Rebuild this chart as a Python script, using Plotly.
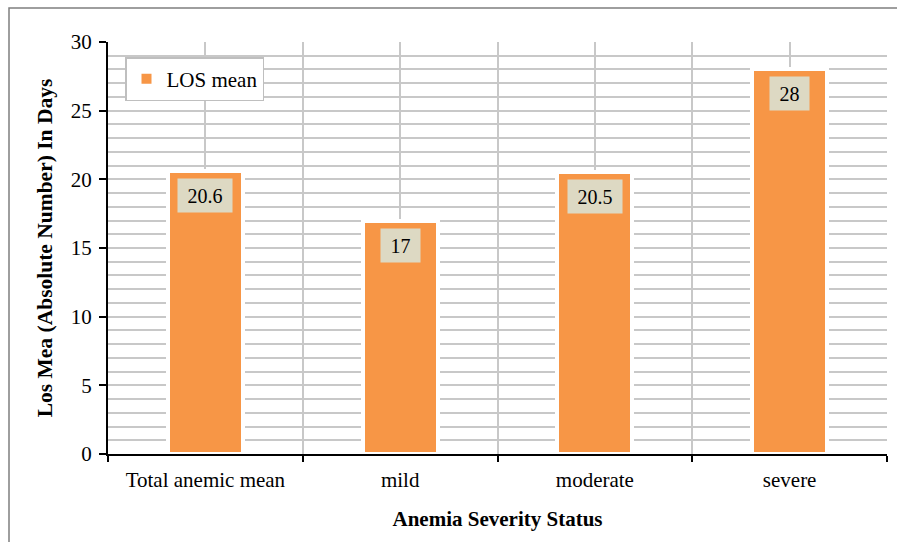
import plotly.graph_objects as go

# Length-of-stay means by anemia severity
categories = ["Total anemic mean", "mild", "moderate", "severe"]
los_mean = [20.6, 17, 20.5, 28]
series_name = "LOS mean"
value_labels = ["20.6", "17", "20.5", "28"]

FONT = "Liberation Serif, Times New Roman, serif"
BAR = "#F79646"
GRID = "#C8C8C8"
FS = 21

x_pos = list(range(len(categories)))

fig = go.Figure()
fig.add_trace(go.Bar(
    x=x_pos,
    y=los_mean,
    name=series_name,
    width=0.385,
    marker=dict(color=BAR, line=dict(color="white", width=4)),
    showlegend=True,
))

# value boxes at the inside end of each bar
for xi, v, txt in zip(x_pos, los_mean, value_labels):
    w = sum(5 if ch == "." else 10 for ch in txt) + 9
    fig.add_annotation(
        x=xi, y=v, xref="x", yref="y",
        text=txt, showarrow=False,
        yanchor="top", yshift=-7,
        font=dict(family=FONT, size=20, color="black"),
        bgcolor="#DDD9C3", borderpad=5,
        width=w, height=23,
    )

# outer chart border
L, R, T, B = 108, 887, 42, 454
pw, ph = R - L, B - T
fig.add_shape(
    type="rect", xref="paper", yref="paper",
    x0=(9 - L) / pw, x1=(930 - L) / pw,
    y0=(B - 580) / ph, y1=(B - 8) / ph,
    line=dict(color="#7F7F7F", width=1.5), fillcolor="rgba(0,0,0,0)",
    layer="below",
)

fig.update_layout(
    width=897, height=542,
    margin=dict(l=L, r=897 - R, t=T, b=542 - B),
    paper_bgcolor="white", plot_bgcolor="white",
    font=dict(family=FONT, size=FS, color="black"),
    bargap=0,
    legend=dict(
        x=(125 - L) / pw, y=(B - 57) / ph,
        xanchor="left", yanchor="top",
        bgcolor="white", bordercolor="#BFBFBF", borderwidth=1.5,
        font=dict(family=FONT, size=FS, color="black"),
        itemsizing="constant",
    ),
    xaxis=dict(
        range=[-0.5, len(categories) - 0.5],
        tickmode="array", tickvals=x_pos, ticktext=categories,
        ticks="", showgrid=True, gridcolor=GRID, gridwidth=1.5,
        showline=True, linecolor="black", linewidth=2,
        tickfont=dict(family=FONT, size=FS, color="black"),
        ticklabelstandoff=6,
        minor=dict(tick0=-0.5, dtick=1, ticks="outside", ticklen=6,
                   tickwidth=2, tickcolor="black", showgrid=True,
                   gridcolor=GRID, gridwidth=1.5),
        title=dict(text="<b>Anemia Severity Status</b>", standoff=20,
                   font=dict(family=FONT, size=FS, color="black")),
        zeroline=False,
    ),
    yaxis=dict(
        range=[0, 30], tickmode="linear", tick0=0, dtick=5,
        ticks="outside", ticklen=7, tickwidth=2, tickcolor="black",
        showgrid=True, gridcolor=GRID, gridwidth=1.5,
        showline=True, linecolor="black", linewidth=2,
        tickfont=dict(family=FONT, size=FS, color="black"),
        ticklabelstandoff=3,
        minor=dict(dtick=1, showgrid=True, gridcolor=GRID, gridwidth=1.5),
        title=dict(text="<b>Los Mea (Absolute Number) In Days</b>", standoff=12,
                   font=dict(family=FONT, size=21.5, color="black")),
        zeroline=False,
    ),
)

fig.write_html("out.html")
